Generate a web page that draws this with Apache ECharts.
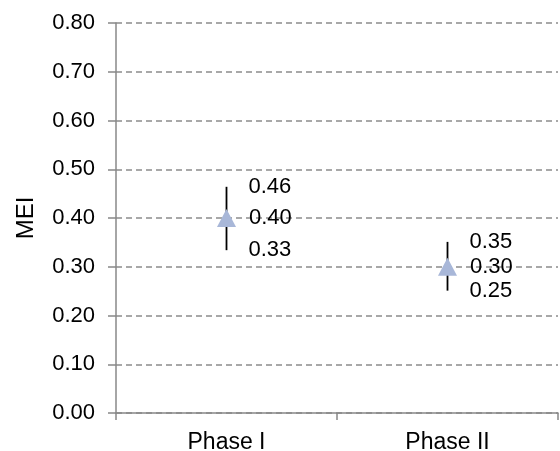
<!DOCTYPE html>
<html>
<head>
<meta charset="utf-8">
<script src="https://cdn.jsdelivr.net/npm/echarts@6/dist/echarts.min.js"></script>
<style>html,body{margin:0;padding:0;background:#fff}#c{width:560px;height:451px}</style>
</head>
<body>
<div id="c"></div>
<script>
const categories = ['Phase I', 'Phase II'];
const meanValues = [0.40, 0.30];
const lowValues = [0.334, 0.251];
const highValues = [0.464, 0.351];
const yMin = 0, yMax = 0.8, yInterval = 0.1;

const FONT = "'Liberation Sans', Arial, sans-serif";
const FS = 22;
const chart = echarts.init(document.getElementById('c'), null, {renderer: 'canvas'});

const errData = categories.map((c, i) => [i, lowValues[i], highValues[i]]);
const meanData = categories.map((c, i) => [i, meanValues[i]]);

chart.setOption({
  animation: false,
  textStyle: {fontFamily: FONT},
  grid: {left: 116, right: 2, top: 23, bottom: 38, containLabel: false, outerBoundsMode: 'none'},
  xAxis: {
    type: 'category',
    data: categories,
    boundaryGap: true,
    axisLine: {lineStyle: {color: '#888', width: 1.5}},
    axisTick: {show: true, length: 7, lineStyle: {color: '#888', width: 1.5}},
    axisLabel: {color: '#000', fontSize: 23, fontFamily: FONT, margin: 18},
    splitLine: {show: false}
  },
  yAxis: {
    type: 'value',
    min: yMin, max: yMax, interval: yInterval,
    name: 'MEI',
    nameLocation: 'middle',
    nameGap: 78,
    nameRotate: 90,
    nameTextStyle: {color: '#000', fontSize: 24, fontFamily: FONT},
    axisLine: {show: true, lineStyle: {color: '#888', width: 1.5}},
    axisTick: {show: true, length: 8, lineStyle: {color: '#888', width: 1.5}},
    axisLabel: {color: '#000', fontSize: FS, fontFamily: FONT, margin: 21,
      formatter: v => v.toFixed(2)},
    splitLine: {show: true, lineStyle: {color: '#8c8c8c', width: 1.5, type: [6, 4]}}
  },
  series: [
    {
      type: 'custom',
      z: 2,
      data: errData,
      renderItem: function (params, api) {
        const x = api.value(0);
        const lo = api.coord([x, api.value(1)]);
        const hi = api.coord([x, api.value(2)]);
        return {
          type: 'group',
          children: [
            {type: 'line', shape: {x1: lo[0], y1: lo[1], x2: hi[0], y2: hi[1]},
             style: {stroke: '#000', lineWidth: 1.8}},
            {type: 'text', style: {x: hi[0] + 22, y: hi[1], text: api.value(2).toFixed(2),
              fontSize: FS, fontFamily: FONT, fill: '#000', align: 'left', verticalAlign: 'middle'}},
            {type: 'text', style: {x: lo[0] + 22, y: lo[1], text: api.value(1).toFixed(2),
              fontSize: FS, fontFamily: FONT, fill: '#000', align: 'left', verticalAlign: 'middle'}}
          ]
        };
      }
    },
    {
      type: 'scatter',
      z: 3,
      data: meanData,
      symbol: 'triangle',
      symbolSize: [19, 18],
      itemStyle: {color: '#a8b7d8', opacity: 1},
      label: {show: true, position: 'right', distance: 13, color: '#000', fontSize: FS,
        fontFamily: FONT, formatter: p => p.value[1].toFixed(2)}
    }
  ]
});
</script>
</body>
</html>
